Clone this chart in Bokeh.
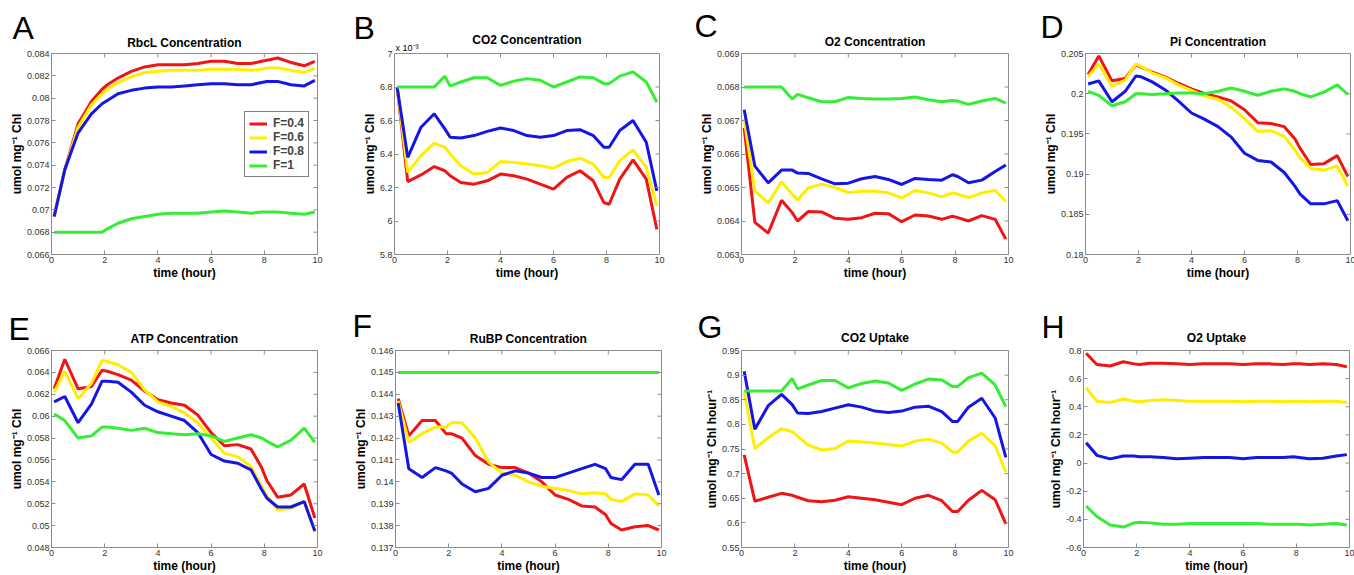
from bokeh.plotting import figure
from bokeh.models import (Range1d, FixedTicker, Title, Legend, LegendItem,
                          CustomJSTickFormatter)
from bokeh.layouts import row, column
from bokeh.embed import file_html
from bokeh.resources import INLINE

# ---------------------------------------------------------------- data
time_h = [0.1, 0.5, 1.0, 1.5, 1.9, 2.1, 2.5, 3.0, 3.5, 4.0, 4.5, 5.0,
          5.5, 6.0, 6.5, 7.0, 7.5, 7.9, 8.1, 8.5, 9.0, 9.5, 9.9]
series_names = ["F=0.4", "F=0.6", "F=0.8", "F=1"]
x_ticks = [0, 2, 4, 6, 8, 10]

# A  RbcL concentration
rbcl_04 = [0.0694, 0.0736, 0.0777, 0.0797, 0.0808, 0.0812, 0.0818, 0.0824, 0.0828, 0.0830, 0.0830, 0.0830,
           0.0831, 0.0833, 0.0833, 0.0831, 0.0831, 0.0833, 0.0834, 0.0836, 0.0832, 0.0829, 0.0833]
rbcl_06 = [0.0694, 0.0736, 0.0774, 0.0794, 0.0804, 0.0808, 0.0814, 0.0819, 0.0823, 0.0824, 0.0825, 0.0825,
           0.0825, 0.0826, 0.0826, 0.0826, 0.0825, 0.0826, 0.0827, 0.0827, 0.0825, 0.0823, 0.0827]
rbcl_08 = [0.0694, 0.0736, 0.0769, 0.0786, 0.0795, 0.0798, 0.0804, 0.0807, 0.0809, 0.0810, 0.0810, 0.0811,
           0.0812, 0.0813, 0.0813, 0.0812, 0.0812, 0.0814, 0.0815, 0.0815, 0.0812, 0.0811, 0.0816]
rbcl_10 = [0.0680, 0.0680, 0.0680, 0.0680, 0.0680, 0.0683, 0.0688, 0.0692, 0.0694, 0.0696, 0.0697, 0.0697,
           0.0697, 0.0698, 0.0699, 0.0698, 0.0697, 0.0698, 0.0698, 0.0698, 0.0697, 0.0696, 0.0698]
rbcl_yticks = [0.066, 0.068, 0.070, 0.072, 0.074, 0.076, 0.078, 0.080, 0.082, 0.084]

# B  CO2 concentration (values in units of 1e-3)
co2_04 = [6.80, 6.235, 6.275, 6.325, 6.30, 6.27, 6.23, 6.22, 6.24, 6.28, 6.27, 6.25,
          6.22, 6.19, 6.26, 6.30, 6.24, 6.11, 6.10, 6.25, 6.365, 6.25, 5.95]
co2_06 = [6.80, 6.29, 6.39, 6.465, 6.44, 6.40, 6.33, 6.28, 6.29, 6.355, 6.35, 6.34,
          6.33, 6.315, 6.355, 6.375, 6.34, 6.26, 6.26, 6.36, 6.425, 6.32, 6.09]
co2_08 = [6.80, 6.38, 6.56, 6.64, 6.55, 6.50, 6.495, 6.51, 6.535, 6.555, 6.54, 6.51,
          6.50, 6.51, 6.54, 6.545, 6.51, 6.44, 6.44, 6.54, 6.60, 6.47, 6.18]
co2_10 = [6.80, 6.80, 6.80, 6.80, 6.865, 6.805, 6.83, 6.855, 6.855, 6.81, 6.835, 6.85,
          6.84, 6.80, 6.83, 6.86, 6.855, 6.82, 6.82, 6.865, 6.89, 6.83, 6.71]
co2_yticks = [5.8, 6.0, 6.2, 6.4, 6.6, 6.8, 7.0]

# C  O2 concentration
o2_04 = [0.06678, 0.06396, 0.06364, 0.06462, 0.06425, 0.06400, 0.06428, 0.06427, 0.06408, 0.06405, 0.06410, 0.06423,
         0.06422, 0.06398, 0.06418, 0.06415, 0.06405, 0.06414, 0.06410, 0.06400, 0.06416, 0.06405, 0.06346]
o2_06 = [0.06705, 0.06490, 0.06454, 0.06517, 0.06480, 0.06463, 0.06499, 0.06510, 0.06500, 0.06485, 0.06489, 0.06489,
         0.06484, 0.06469, 0.06491, 0.06484, 0.06472, 0.06484, 0.06480, 0.06470, 0.06484, 0.06491, 0.06458]
o2_08 = [0.06732, 0.06564, 0.06514, 0.06552, 0.06552, 0.06543, 0.06542, 0.06526, 0.06511, 0.06513, 0.06526, 0.06533,
         0.06524, 0.06509, 0.06527, 0.06524, 0.06522, 0.06538, 0.06533, 0.06514, 0.06522, 0.06548, 0.06567]
o2_10 = [0.06800, 0.06800, 0.06800, 0.06800, 0.06764, 0.06778, 0.06768, 0.06756, 0.06756, 0.06769, 0.06766, 0.06764,
         0.06764, 0.06766, 0.06770, 0.06762, 0.06756, 0.06760, 0.06758, 0.06748, 0.06758, 0.06766, 0.06752]
o2_yticks = [0.063, 0.064, 0.065, 0.066, 0.067, 0.068, 0.069]

# D  Pi concentration
pi_04 = [0.2024, 0.2047, 0.2016, 0.2019, 0.2036, 0.2033, 0.2027, 0.2021, 0.2013, 0.2006, 0.2000, 0.1996,
         0.1991, 0.1980, 0.1964, 0.1963, 0.1959, 0.1944, 0.1932, 0.1912, 0.1913, 0.1923, 0.1897]
pi_06 = [0.2021, 0.2037, 0.2009, 0.2017, 0.2037, 0.2034, 0.2026, 0.2020, 0.2011, 0.2004, 0.1997, 0.1993,
         0.1983, 0.1969, 0.1953, 0.1954, 0.1947, 0.1930, 0.1920, 0.1907, 0.1905, 0.1910, 0.1885]
pi_08 = [0.2012, 0.2016, 0.1990, 0.2003, 0.2022, 0.2021, 0.2015, 0.2005, 0.1991, 0.1976, 0.1968, 0.1959,
         0.1946, 0.1926, 0.1917, 0.1915, 0.1902, 0.1885, 0.1875, 0.1863, 0.1863, 0.1867, 0.1842]
pi_10 = [0.2003, 0.1998, 0.1985, 0.1990, 0.2000, 0.2000, 0.1999, 0.2000, 0.2001, 0.2001, 0.2000, 0.2003,
         0.2007, 0.2003, 0.1998, 0.2003, 0.2006, 0.2003, 0.2000, 0.1996, 0.2002, 0.2011, 0.1999]
pi_yticks = [0.180, 0.185, 0.190, 0.195, 0.200, 0.205]

# E  ATP concentration
atp_04 = [0.0625, 0.0652, 0.0625, 0.0627, 0.0642, 0.0641, 0.0638, 0.0633, 0.0623, 0.0615, 0.0612, 0.0610,
          0.0601, 0.0585, 0.0573, 0.0574, 0.0570, 0.0553, 0.0541, 0.0526, 0.0528, 0.0538, 0.0507]
atp_06 = [0.0622, 0.0641, 0.0616, 0.0630, 0.0651, 0.0650, 0.0647, 0.0640, 0.0624, 0.0613, 0.0609, 0.0603,
          0.0594, 0.0580, 0.0566, 0.0563, 0.0554, 0.0536, 0.0527, 0.0514, 0.0516, 0.0522, 0.0494]
atp_08 = [0.0613, 0.0618, 0.0594, 0.0611, 0.0632, 0.0632, 0.0631, 0.0622, 0.0610, 0.0604, 0.0600, 0.0596,
          0.0585, 0.0565, 0.0559, 0.0557, 0.0551, 0.0533, 0.0525, 0.0517, 0.0517, 0.0522, 0.0495]
atp_10 = [0.0602, 0.0596, 0.0580, 0.0582, 0.0590, 0.0590, 0.0589, 0.0587, 0.0589, 0.0585, 0.0584, 0.0583,
          0.0584, 0.0582, 0.0577, 0.0580, 0.0583, 0.0580, 0.0577, 0.0572, 0.0578, 0.0589, 0.0576]
atp_yticks = [0.048, 0.050, 0.052, 0.054, 0.056, 0.058, 0.060, 0.062, 0.064, 0.066]

# F  RuBP concentration
rubp_04 = [0.1438, 0.1421, 0.1428, 0.1428, 0.1422, 0.1422, 0.1420, 0.1412, 0.1408, 0.14065, 0.14065, 0.1404,
           0.1400, 0.1394, 0.1392, 0.1389, 0.13885, 0.1385, 0.1381, 0.1378, 0.13795, 0.1380, 0.1378]
rubp_06 = [0.1437, 0.1418, 0.1422, 0.1425, 0.1425, 0.1427, 0.1427, 0.1420, 0.1409, 0.1404, 0.1403, 0.1400,
           0.1398, 0.1397, 0.1396, 0.13945, 0.1395, 0.13945, 0.1392, 0.1391, 0.13945, 0.1394, 0.1389]
rubp_08 = [0.1436, 0.1406, 0.1402, 0.14065, 0.1405, 0.1404, 0.1399, 0.13955, 0.1397, 0.1403, 0.1405, 0.1404,
           0.1402, 0.1402, 0.1404, 0.1406, 0.1408, 0.1406, 0.1402, 0.1401, 0.1408, 0.1408, 0.1394]
rubp_10 = [0.145, 0.145, 0.145, 0.145, 0.145, 0.145, 0.145, 0.145, 0.145, 0.145, 0.145, 0.145,
           0.145, 0.145, 0.145, 0.145, 0.145, 0.145, 0.145, 0.145, 0.145, 0.145, 0.145]
rubp_yticks = [0.137, 0.138, 0.139, 0.140, 0.141, 0.142, 0.143, 0.144, 0.145, 0.146]

# G  CO2 uptake
co2u_04 = [0.738, 0.644, 0.652, 0.660, 0.656, 0.652, 0.645, 0.643, 0.646, 0.653, 0.650, 0.647,
           0.642, 0.637, 0.650, 0.656, 0.645, 0.623, 0.623, 0.646, 0.666, 0.647, 0.598]
co2u_06 = [0.866, 0.751, 0.773, 0.791, 0.785, 0.776, 0.758, 0.748, 0.751, 0.766, 0.764, 0.762,
           0.759, 0.756, 0.766, 0.770, 0.762, 0.744, 0.744, 0.766, 0.782, 0.757, 0.703]
co2u_08 = [0.908, 0.790, 0.838, 0.861, 0.840, 0.823, 0.822, 0.826, 0.833, 0.840, 0.835, 0.827,
           0.824, 0.827, 0.835, 0.837, 0.826, 0.806, 0.806, 0.835, 0.853, 0.813, 0.733]
co2u_10 = [0.868, 0.868, 0.868, 0.868, 0.893, 0.872, 0.880, 0.889, 0.889, 0.874, 0.883, 0.888,
           0.884, 0.869, 0.882, 0.892, 0.890, 0.877, 0.877, 0.895, 0.904, 0.880, 0.836]
co2u_yticks = [0.55, 0.60, 0.65, 0.70, 0.75, 0.80, 0.85, 0.90, 0.95]

# H  O2 uptake
o2u_04 = [0.78, 0.70, 0.69, 0.72, 0.705, 0.70, 0.71, 0.71, 0.705, 0.70, 0.705, 0.705,
          0.705, 0.70, 0.705, 0.705, 0.70, 0.705, 0.705, 0.70, 0.705, 0.70, 0.685]
o2u_06 = [0.535, 0.44, 0.43, 0.455, 0.44, 0.435, 0.445, 0.45, 0.445, 0.44, 0.44, 0.44,
          0.44, 0.435, 0.44, 0.44, 0.435, 0.44, 0.44, 0.435, 0.44, 0.44, 0.43]
o2u_08 = [0.145, 0.055, 0.03, 0.05, 0.05, 0.045, 0.045, 0.04, 0.03, 0.035, 0.04, 0.04,
          0.04, 0.03, 0.04, 0.04, 0.04, 0.045, 0.04, 0.03, 0.035, 0.05, 0.06]
o2u_10 = [-0.305, -0.38, -0.44, -0.455, -0.425, -0.42, -0.425, -0.435, -0.435, -0.43, -0.43, -0.43,
          -0.43, -0.43, -0.43, -0.435, -0.435, -0.435, -0.435, -0.44, -0.435, -0.43, -0.44]
o2u_yticks = [-0.6, -0.4, -0.2, 0.0, 0.2, 0.4, 0.6, 0.8]

# ---------------------------------------------------------------- style
FONT = "Liberation Sans"
GREY = "#8c8c8c"
TICK_TXT = "#333333"
COLORS = ["#f01414", "#ffee00", "#1515e6", "#33ee33"]
YL_CONC = "umol mg\u207b\u00b9 Chl"
YL_RATE = "umol mg\u207b\u00b9 Chl hour\u207b\u00b9"
FMT_CODE = "return String(parseFloat(tick.toFixed(6)));"
TICK_LEN = 4


def style_axis(ax, ticks, axis_label):
    ax.ticker = FixedTicker(ticks=ticks, minor_ticks=[])
    ax.formatter = CustomJSTickFormatter(code=FMT_CODE)
    ax.axis_line_color = None
    ax.major_tick_in = TICK_LEN
    ax.major_tick_out = 0
    ax.major_tick_line_color = GREY
    ax.minor_tick_line_color = None
    ax.major_label_text_font = FONT
    ax.major_label_text_color = TICK_TXT
    ax.major_label_text_font_size = "9px"
    ax.major_label_standoff = 2
    ax.axis_label = axis_label
    ax.axis_label_text_font = FONT
    ax.axis_label_text_font_style = "bold"
    ax.axis_label_text_font_size = "12px"
    ax.axis_label_text_color = "black"
    ax.axis_label_standoff = 0


def add_above_texts(p, items):
    """items, nearest to the frame first:
    (text, font px, style, align, offset, vertical_align, baseline height above frame)"""
    cum = 0.0
    for text, fs, style, align, offset, valign, base in items:
        a, d = 0.905 * fs, 0.212 * fs
        h = a + d
        if valign == "top":
            s = 2 * (base - cum - 2 - d)
        else:
            s = 2 * (base - cum - d)
        s = int(round(s))
        if 2 + h + s < 4:
            s = int(round(4 - 2 - h))
        H = 2 + h + s
        p.add_layout(Title(text=text, align=align, offset=offset, vertical_align=valign,
                           standoff=s, text_font=FONT, text_font_size=f"{fs}px",
                           text_font_style=style, text_color="black"), "above")
        cum += H


def panel(letter, title, ylabel, yticks, ys, geo, legend=False, multiplier=None):
    ml, fw, mr, mt, fh, mb, ldx, lbase, tbase = geo
    p = figure(frame_width=fw, frame_height=fh,
               min_border_left=ml, min_border_right=mr,
               min_border_top=mt, min_border_bottom=mb,
               x_range=Range1d(x_ticks[0], x_ticks[-1]),
               y_range=Range1d(yticks[0], yticks[-1]),
               output_backend="svg", toolbar_location=None, tools="", title=None)
    p.background_fill_color = "white"
    p.border_fill_color = "white"
    p.outline_line_color = GREY
    p.outline_line_width = 1
    p.xgrid.visible = False
    p.ygrid.visible = False

    rends = []
    for vals, col in zip(ys, COLORS):
        rends.append(p.line(time_h, vals, line_color=col, line_width=3))

    style_axis(p.xaxis[0], x_ticks, "time (hour)")
    style_axis(p.yaxis[0], yticks, ylabel)

    # inward ticks on the top and right edges of the box (MATLAB style)
    ylo, yhi = yticks[0], yticks[-1]
    xlo, xhi = x_ticks[0], x_ticks[-1]
    dy = (yhi - ylo) * TICK_LEN / fh
    dx = (xhi - xlo) * TICK_LEN / fw
    p.segment(x0=x_ticks, y0=[yhi] * len(x_ticks), x1=x_ticks, y1=[yhi - dy] * len(x_ticks),
              line_color=GREY, line_width=1)
    p.segment(x0=[xhi] * len(yticks), y0=yticks, x1=[xhi - dx] * len(yticks), y1=yticks,
              line_color=GREY, line_width=1)

    items = []
    if multiplier:
        items.append((multiplier, 9, "normal", "left", 1, "top", 3))
    items.append((title, 12, "bold", "center", 0, "top", tbase))
    items.append((letter, 32, "normal", "left", ldx, "bottom", lbase))
    add_above_texts(p, items)

    if legend:
        lg = Legend(items=[LegendItem(label=n, renderers=[r]) for n, r in zip(series_names, rends)],
                    location=(193, 77), margin=0, padding=4, spacing=0,
                    glyph_width=18, glyph_height=13, label_height=13, label_standoff=6,
                    label_text_font=FONT, label_text_font_style="bold",
                    label_text_font_size="12px", border_line_color="black",
                    border_line_width=1, background_fill_color="white",
                    background_fill_alpha=1.0)
        p.add_layout(lg)
    return p


# geometry: min_border_left, frame_w, min_border_right, min_border_top, frame_h,
#           min_border_bottom, letter x offset, letter baseline above frame, title baseline above frame
pA = panel("A", "RbcL Concentration", YL_CONC, rbcl_yticks, [rbcl_04, rbcl_06, rbcl_08, rbcl_10],
           (51, 266, 33, 51, 201, 40, -39, 14, 6), legend=True)
pB = panel("B", "CO2 Concentration", YL_CONC, co2_yticks, [co2_04, co2_06, co2_08, co2_10],
           (44, 265, 37, 51, 201, 40, -41, 14, 6), multiplier="x 10\u207b\u00b3")
pC = panel("C", "O2 Concentration", YL_CONC, o2_yticks, [o2_04, o2_06, o2_08, o2_10],
           (43, 267, 32, 53, 201, 38, -47, 16, 7))
pD = panel("D", "Pi Concentration", YL_CONC, pi_yticks, [pi_04, pi_06, pi_08, pi_10],
           (44, 265, 6, 53, 201, 38, -45, 15, 7))
pE = panel("E", "ATP Concentration", YL_CONC, atp_yticks, [atp_04, atp_06, atp_08, atp_10],
           (51, 266, 33, 58, 197, 27, -43, 7, 7))
pF = panel("F", "RuBP Concentration", YL_CONC, rubp_yticks, [rubp_04, rubp_06, rubp_08, rubp_10],
           (44, 266, 36, 58, 197, 27, -43, 13, 7))
pG = panel("G", "CO2 Uptake", YL_RATE, co2u_yticks, [co2u_04, co2u_06, co2u_08, co2u_10],
           (44, 267, 31, 58, 197, 27, -44, 0, 8))
pH = panel("H", "O2 Uptake", YL_RATE, o2u_yticks, [o2u_04, o2u_06, o2u_08, o2u_10],
           (44, 266, 5, 58, 197, 27, -42, 3, 8))

layout = column(row(pA, pB, pC, pD), row(pE, pF, pG, pH))

open("out.html", "w").write(file_html(layout, INLINE))
